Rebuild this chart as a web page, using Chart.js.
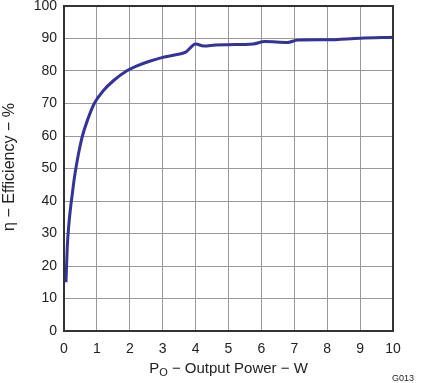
<!DOCTYPE html>
<html>
<head>
<meta charset="utf-8">
<script src="https://cdn.jsdelivr.net/npm/chart.js@4"></script>
<style>
html,body{margin:0;padding:0;background:#fff;}
#wrap{width:421px;height:383px;position:relative;}
</style>
</head>
<body>
<div id="wrap"><canvas id="c" width="421" height="383"></canvas></div>
<script>
const outputPower = [0.06,0.1,0.15,0.2,0.25,0.3,0.36,0.45,0.56,0.7,0.92,1.2,1.5,1.9,2.2,2.6,3.0,3.4,3.7,4.0,4.25,4.6,5.0,5.75,6.1,6.8,7.1,8.0,9.0,10.0];
const efficiency  = [15,26,33,38,42,46,50,55,60,64.5,70,74,77,80,81.5,83,84.2,85,85.8,88.3,87.7,88,88.1,88.3,89.1,88.8,89.5,89.6,90.1,90.4];
const xTicks = [0,1,2,3,4,5,6,7,8,9,10];
const yTicks = [0,10,20,30,40,50,60,70,80,90,100];
const xTitleMain = "P";
const xTitleSub = "O";
const xTitleRest = " \u2212 Output Power \u2212 W";
const yTitle = "\u03B7 \u2212 Efficiency \u2212 %";
const figId = "G013";

const FONT = "'Liberation Sans', Arial, sans-serif";

const decor = {
  id: 'decor',
  afterDraw(chart) {
    const ctx = chart.ctx, a = chart.chartArea;
    ctx.save();
    ctx.strokeStyle = '#333';
    ctx.lineWidth = 2;
    ctx.strokeRect(a.left, a.top, a.right - a.left, a.bottom - a.top);
    ctx.fillStyle = '#222';
    ctx.textBaseline = 'alphabetic';
    ctx.font = '15px ' + FONT;
    const wMain = ctx.measureText(xTitleMain).width;
    const wRest = ctx.measureText(xTitleRest).width;
    ctx.font = '11px ' + FONT;
    const wSub = ctx.measureText(xTitleSub).width;
    const total = wMain + wSub + wRest;
    let x = (a.left + a.right) / 2 - total / 2;
    const yb = 373;
    ctx.textAlign = 'left';
    ctx.font = '15px ' + FONT;
    ctx.fillText(xTitleMain, x, yb);
    x += wMain;
    ctx.font = '11px ' + FONT;
    ctx.fillText(xTitleSub, x, yb + 3);
    x += wSub;
    ctx.font = '15px ' + FONT;
    ctx.fillText(xTitleRest, x, yb);
    ctx.save();
    ctx.translate(14, 167);
    ctx.rotate(-Math.PI / 2);
    ctx.textAlign = 'center';
    ctx.font = '16px ' + FONT;
    ctx.fillText(yTitle, 0, 0);
    ctx.restore();
    ctx.font = '9px ' + FONT;
    ctx.textAlign = 'right';
    ctx.fillText(figId, 414, 381);
    ctx.restore();
  }
};

new Chart(document.getElementById('c'), {
  type: 'line',
  data: {
    datasets: [{
      data: outputPower.map((p, i) => ({x: p, y: efficiency[i]})),
      borderColor: '#333399',
      borderWidth: 3,
      pointRadius: 0,
      cubicInterpolationMode: 'monotone',
      fill: false
    }]
  },
  options: {
    responsive: false,
    animation: false,
    devicePixelRatio: 1,
    layout: {padding: {left: 0, top: 6, right: 28, bottom: 0}},
    plugins: {legend: {display: false}, tooltip: {enabled: false}},
    scales: {
      x: {
        type: 'linear', min: 0, max: 10,
        afterBuildTicks(s) { s.ticks = xTicks.map(v => ({value: v})); },
        afterFit(s) { s.height = 52; s.paddingLeft = 0; s.paddingRight = 0; },
        grid: {color: '#999', lineWidth: 1, drawTicks: false},
        border: {display: false},
        ticks: {color: '#222', font: {size: 14, family: FONT}, padding: 10, maxRotation: 0, autoSkip: false}
      },
      y: {
        type: 'linear', min: 0, max: 100,
        afterBuildTicks(s) { s.ticks = yTicks.map(v => ({value: v})); },
        afterFit(s) { s.width = 64; s.paddingTop = 0; s.paddingBottom = 0; },
        grid: {color: '#999', lineWidth: 1, drawTicks: false},
        border: {display: false},
        ticks: {color: '#222', font: {size: 14, family: FONT}, padding: 7, autoSkip: false}
      }
    }
  },
  plugins: [decor]
});
</script>
</body>
</html>
